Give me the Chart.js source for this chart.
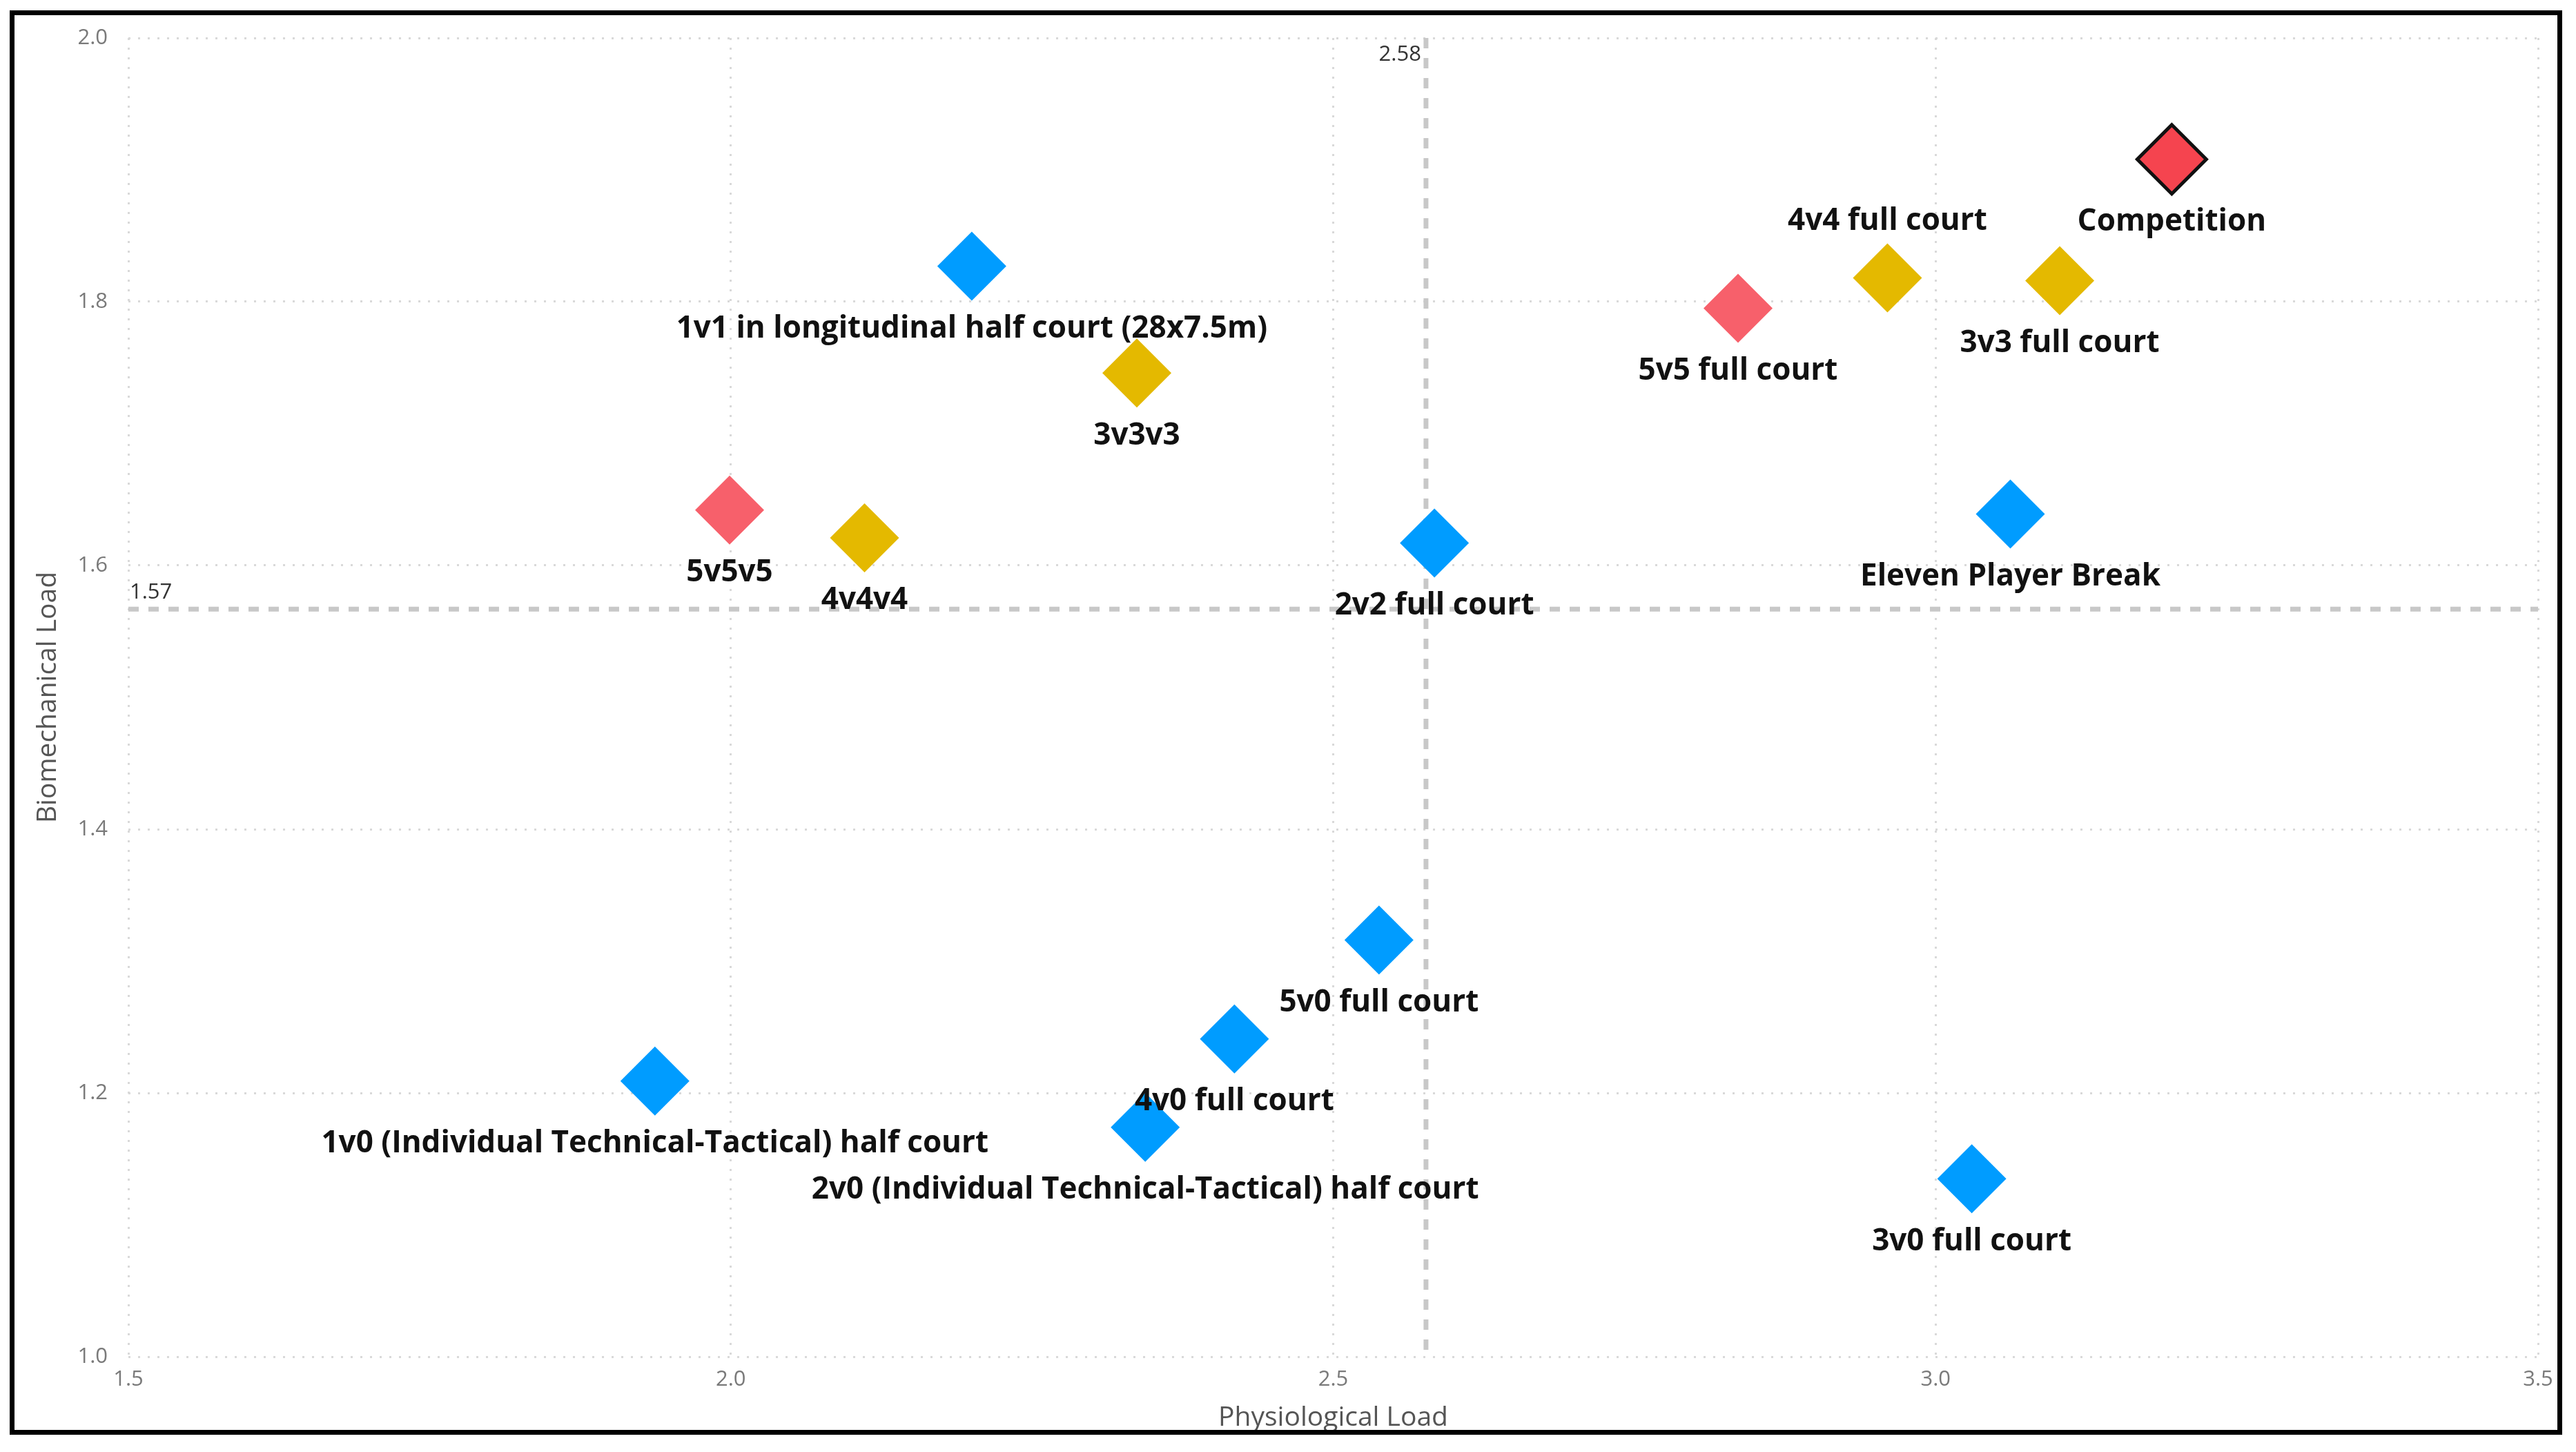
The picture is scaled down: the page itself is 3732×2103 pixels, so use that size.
<!DOCTYPE html>
<html>
<head>
<meta charset="utf-8">
<style>
  html, body { margin: 0; padding: 0; background: #ffffff; }
  #wrap { position: relative; width: 3732px; height: 2103px; }
  canvas { display: block; }
</style>
<script src="https://cdn.jsdelivr.net/npm/chart.js@4.4.1/dist/chart.umd.min.js"></script>
</head>
<body>
<div id="wrap"><canvas id="c" width="3732" height="2103"></canvas></div>
<script>
// ---- data ----
const drillNames = [
  "Competition",
  "4v4 full court",
  "3v3 full court",
  "5v5 full court",
  "1v1 in longitudinal half court (28x7.5m)",
  "3v3v3",
  "5v5v5",
  "4v4v4",
  "2v2 full court",
  "Eleven Player Break",
  "5v0 full court",
  "4v0 full court",
  "1v0 (Individual Technical-Tactical) half court",
  "2v0 (Individual Technical-Tactical) half court",
  "3v0 full court"
];
const physiologicalLoad = [3.196, 2.960, 3.103, 2.836, 2.200, 2.337, 1.999, 2.111, 2.584, 3.062, 2.538, 2.418, 1.937, 2.344, 3.030];
const biomechanicalLoad = [1.908, 1.818, 1.816, 1.795, 1.827, 1.746, 1.642, 1.621, 1.617, 1.639, 1.316, 1.241, 1.209, 1.174, 1.135];
const drillGroup = ["competition", "gold", "gold", "red", "blue", "gold", "red", "gold", "blue", "blue", "blue", "blue", "blue", "blue", "blue"];
const xTickLabels = ["1.5", "2.0", "2.5", "3.0", "3.5"];
const yTickLabels = ["1.0", "1.2", "1.4", "1.6", "1.8", "2.0"];
const xAxisTitle = "Physiological Load";
const yAxisTitle = "Biomechanical Load";

// ---- styles ----
const groupFill = { blue: "#009cff", gold: "#e4b900", red: "#f7606b", competition: "#f5444f" };
const groupBorder = { blue: "#009cff", gold: "#e4b900", red: "#f7606b", competition: "#111111" };
const labelsAbove = new Set(["4v4 full court"]);

const mean = a => a.reduce((s, v) => s + v, 0) / a.length;
const avgX = mean(physiologicalLoad);
const avgY = mean(biomechanicalLoad);

const points = physiologicalLoad.map((x, i) => ({ x: x, y: biomechanicalLoad[i] }));

const refLines = {
  id: 'refLines',
  beforeDatasetsDraw(chart) {
    const { ctx, chartArea: a, scales: { x, y } } = chart;
    const px = x.getPixelForValue(avgX);
    const py = y.getPixelForValue(avgY);
    ctx.save();
    ctx.strokeStyle = '#c8c8c8';
    ctx.lineWidth = 7;
    ctx.setLineDash([15, 14]);
    ctx.beginPath();
    ctx.moveTo(px, a.top); ctx.lineTo(px, a.bottom);
    ctx.moveTo(a.left, py); ctx.lineTo(a.right, py);
    ctx.stroke();
    ctx.setLineDash([]);
    ctx.fillStyle = '#333333';
    ctx.font = '31px "Open Sans"';
    ctx.textAlign = 'right';
    ctx.textBaseline = 'top';
    ctx.fillText(avgX.toFixed(2), px - 7, a.top + 9);
    ctx.textAlign = 'left';
    ctx.textBaseline = 'bottom';
    ctx.fillText(avgY.toFixed(2), a.left + 2, py - 8);
    ctx.restore();
  }
};

const pointLabels = {
  id: 'pointLabels',
  afterDatasetsDraw(chart) {
    const { ctx } = chart;
    const meta = chart.getDatasetMeta(0);
    ctx.save();
    ctx.font = 'bold 44px "Open Sans"';
    ctx.fillStyle = '#111111';
    ctx.textAlign = 'center';
    ctx.textBaseline = 'middle';
    meta.data.forEach((el, i) => {
      const name = drillNames[i];
      const dy = labelsAbove.has(name) ? -82 : 91;
      ctx.fillText(name, el.x, el.y + dy);
    });
    ctx.restore();
  }
};

const frame = {
  id: 'frame',
  afterDraw(chart) {
    const { ctx } = chart;
    ctx.save();
    ctx.strokeStyle = '#000000';
    ctx.lineWidth = 7;
    ctx.strokeRect(17.5, 18.5, 3708.5 - 17.5, 2074.5 - 18.5);
    ctx.restore();
  }
};

new Chart(document.getElementById('c'), {
  type: 'scatter',
  data: {
    datasets: [{
      data: points,
      pointStyle: 'rectRot',
      pointRadius: 50,
      pointHoverRadius: 50,
      pointBackgroundColor: drillGroup.map(g => groupFill[g]),
      pointBorderColor: drillGroup.map(g => groupBorder[g]),
      pointBorderWidth: drillGroup.map(g => g === 'competition' ? 5 : 0)
    }]
  },
  options: {
    responsive: false,
    animation: false,
    devicePixelRatio: 1,
    layout: { padding: { top: 43, right: 51, left: 0, bottom: 0 } },
    plugins: { legend: { display: false }, tooltip: { enabled: false } },
    scales: {
      x: {
        type: 'linear',
        min: 1.5, max: 3.5,
        afterFit(s) { s.height = 138; },
        afterBuildTicks(s) { s.ticks = xTickLabels.map(t => ({ value: parseFloat(t) })); },
        ticks: {
          callback: (v, i) => xTickLabels[i],
          font: { family: 'Open Sans', size: 31 },
          color: '#7a7a7a',
          padding: 15,
          maxRotation: 0
        },
        grid: { color: '#d9d9d9', lineWidth: 3, drawTicks: false },
        border: { display: false, dash: [3, 11] },
        title: {
          display: true, text: xAxisTitle,
          font: { family: 'Open Sans', size: 39 },
          color: '#555555',
          padding: { top: 0, bottom: 26 }
        }
      },
      y: {
        type: 'linear',
        min: 1.0, max: 2.0,
        afterFit(s) { s.width = 186; },
        afterBuildTicks(s) { s.ticks = yTickLabels.map(t => ({ value: parseFloat(t) })); },
        ticks: {
          callback: (v, i) => yTickLabels[i],
          font: { family: 'Open Sans', size: 31 },
          color: '#7a7a7a',
          padding: 30
        },
        grid: { color: '#d9d9d9', lineWidth: 3, drawTicks: false },
        border: { display: false, dash: [3, 11] },
        title: {
          display: true, text: yAxisTitle,
          font: { family: 'Open Sans', size: 39 },
          color: '#555555',
          padding: { top: 46, bottom: 0 }
        }
      }
    }
  },
  plugins: [refLines, pointLabels, frame]
});
</script>
</body>
</html>
